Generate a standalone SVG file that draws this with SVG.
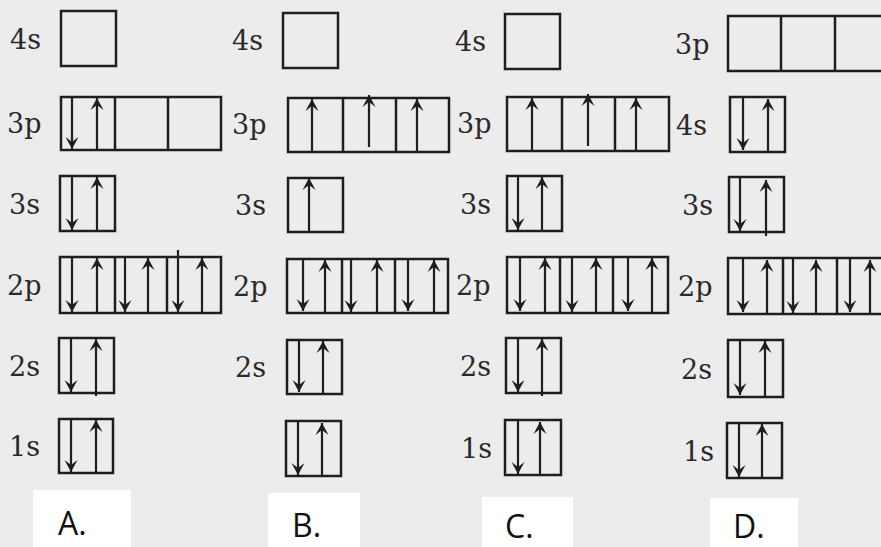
<svg xmlns="http://www.w3.org/2000/svg" width="881" height="547" viewBox="0 0 881 547">
<style>
.bg{fill:#ececec}
.lb{fill:#ffffff}
.box{fill:none;stroke:#1e1e1e;stroke-width:2.5}
.dv{stroke:#1e1e1e;stroke-width:2.5}
.ar{stroke:#1e1e1e;stroke-width:2.2;marker-end:url(#head)}
.t{font-family:"DejaVu Serif","Liberation Serif",serif;font-size:27px;fill:#2a2a2a}
.big{font-family:"Open Sans","Liberation Sans",sans-serif;font-size:32px;fill:#111}
</style>
<defs>
<marker id="head" markerUnits="userSpaceOnUse" markerWidth="16" markerHeight="16" viewBox="-13 -8 16 16" refX="0" refY="0" orient="auto">
<path d="M0,0 L-12,-6.5 L-7,0 L-12,6.5 Z" fill="#1e1e1e"/>
</marker>
</defs>
<rect class="bg" x="0" y="0" width="881" height="547"/>
<rect class="lb" x="33" y="490" width="98" height="57"/>
<rect class="lb" x="268" y="493" width="92" height="54"/>
<rect class="lb" x="482" y="497" width="91" height="50"/>
<rect class="lb" x="710" y="498" width="88" height="49"/>

<g id="A">
<text class="t" x="10" y="49">4s</text>
<text class="t" x="7" y="133">3p</text>
<text class="t" x="9" y="214">3s</text>
<text class="t" x="7" y="295">2p</text>
<text class="t" x="9" y="376">2s</text>
<text class="t" x="9" y="456">1s</text>
<g id="A-4s"><rect class="box" x="61" y="11" width="55" height="55"/></g>
<g id="A-3p"><rect class="box" x="61" y="97" width="160" height="53"/>
<line class="dv" x1="115" y1="97" x2="115" y2="150"/><line class="dv" x1="168" y1="97" x2="168" y2="150"/>
<line class="ar" x1="72" y1="97" x2="72" y2="149"/><line class="ar" x1="97" y1="150" x2="97" y2="98"/></g>
<g id="A-3s"><rect class="box" x="60" y="176" width="55" height="55"/>
<line class="ar" x1="72" y1="176" x2="72" y2="230"/><line class="ar" x1="97" y1="231" x2="97" y2="177"/></g>
<g id="A-2p"><rect class="box" x="60" y="257" width="161" height="56"/>
<line class="dv" x1="115" y1="257" x2="115" y2="313"/><line class="dv" x1="167" y1="257" x2="167" y2="313"/>
<line class="ar" x1="72" y1="257" x2="72" y2="312"/><line class="ar" x1="97" y1="313" x2="97" y2="258"/>
<line class="ar" x1="125" y1="257" x2="125" y2="312"/><line class="ar" x1="148" y1="313" x2="148" y2="258"/>
<line class="ar" x1="178" y1="250" x2="178" y2="312"/><line class="ar" x1="202" y1="313" x2="202" y2="258"/></g>
<g id="A-2s"><rect class="box" x="59" y="338" width="55" height="55"/>
<line class="ar" x1="71" y1="338" x2="71" y2="392"/><line class="ar" x1="96" y1="396" x2="96" y2="339"/></g>
<g id="A-1s"><rect class="box" x="59" y="419" width="54" height="54"/>
<line class="ar" x1="71" y1="419" x2="71" y2="472"/><line class="ar" x1="96" y1="473" x2="96" y2="420"/></g>
</g>

<g id="B">
<text class="t" x="232" y="50">4s</text>
<text class="t" x="232" y="134">3p</text>
<text class="t" x="235" y="215">3s</text>
<text class="t" x="233" y="296">2p</text>
<text class="t" x="235" y="377">2s</text>
<g id="B-4s"><rect class="box" x="283" y="13" width="55" height="55"/></g>
<g id="B-3p"><rect class="box" x="288" y="98" width="161" height="54"/>
<line class="dv" x1="343" y1="98" x2="343" y2="152"/><line class="dv" x1="396" y1="98" x2="396" y2="152"/>
<line class="ar" x1="312" y1="152" x2="312" y2="99"/><line class="ar" x1="369" y1="147" x2="369" y2="95"/><line class="ar" x1="417" y1="152" x2="417" y2="99"/></g>
<g id="B-3s"><rect class="box" x="288" y="178" width="55" height="54"/>
<line class="ar" x1="309" y1="232" x2="309" y2="178"/></g>
<g id="B-2p"><rect class="box" x="287" y="259" width="161" height="54"/>
<line class="dv" x1="342" y1="259" x2="342" y2="313"/><line class="dv" x1="395" y1="259" x2="395" y2="313"/>
<line class="ar" x1="303" y1="259" x2="303" y2="311"/><line class="ar" x1="325" y1="313" x2="325" y2="260"/>
<line class="ar" x1="351" y1="259" x2="351" y2="312"/><line class="ar" x1="377" y1="313" x2="377" y2="260"/>
<line class="ar" x1="408" y1="259" x2="408" y2="311"/><line class="ar" x1="434" y1="313" x2="434" y2="260"/></g>
<g id="B-2s"><rect class="box" x="287" y="340" width="55" height="54"/>
<line class="ar" x1="299" y1="340" x2="299" y2="392"/><line class="ar" x1="323" y1="394" x2="323" y2="341"/></g>
<g id="B-1s"><rect class="box" x="286" y="421" width="55" height="55"/>
<line class="ar" x1="298" y1="421" x2="298" y2="475"/><line class="ar" x1="322" y1="476" x2="322" y2="423"/></g>
</g>

<g id="C">
<text class="t" x="455" y="51">4s</text>
<text class="t" x="457" y="133">3p</text>
<text class="t" x="460" y="214">3s</text>
<text class="t" x="456" y="295">2p</text>
<text class="t" x="460" y="376">2s</text>
<text class="t" x="461" y="458">1s</text>
<g id="C-4s"><rect class="box" x="505" y="14" width="55" height="55"/></g>
<g id="C-3p"><rect class="box" x="507" y="97" width="162" height="54"/>
<line class="dv" x1="562" y1="97" x2="562" y2="151"/><line class="dv" x1="615" y1="97" x2="615" y2="151"/>
<line class="ar" x1="532" y1="151" x2="532" y2="98"/><line class="ar" x1="588" y1="146" x2="588" y2="94"/><line class="ar" x1="636" y1="151" x2="636" y2="98"/></g>
<g id="C-3s"><rect class="box" x="507" y="176" width="55" height="55"/>
<line class="ar" x1="518" y1="176" x2="518" y2="230"/><line class="ar" x1="542" y1="231" x2="542" y2="177"/></g>
<g id="C-2p"><rect class="box" x="507" y="257" width="161" height="56"/>
<line class="dv" x1="560" y1="257" x2="560" y2="313"/><line class="dv" x1="613" y1="257" x2="613" y2="313"/>
<line class="ar" x1="520" y1="257" x2="520" y2="311"/><line class="ar" x1="545" y1="313" x2="545" y2="258"/>
<line class="ar" x1="572" y1="257" x2="572" y2="312"/><line class="ar" x1="596" y1="313" x2="596" y2="258"/>
<line class="ar" x1="628" y1="257" x2="628" y2="311"/><line class="ar" x1="652" y1="313" x2="652" y2="258"/></g>
<g id="C-2s"><rect class="box" x="506" y="338" width="55" height="55"/>
<line class="ar" x1="518" y1="338" x2="518" y2="392"/><line class="ar" x1="542" y1="396" x2="542" y2="339"/></g>
<g id="C-1s"><rect class="box" x="505" y="420" width="56" height="55"/>
<line class="ar" x1="518" y1="420" x2="518" y2="474"/><line class="ar" x1="540" y1="475" x2="540" y2="422"/></g>
</g>

<g id="D">
<text class="t" x="675" y="54">3p</text>
<text class="t" x="676" y="135">4s</text>
<text class="t" x="682" y="215">3s</text>
<text class="t" x="678" y="296">2p</text>
<text class="t" x="681" y="379">2s</text>
<text class="t" x="683" y="461">1s</text>
<g id="D-3p"><rect class="box" x="728" y="16" width="165" height="55"/>
<line class="dv" x1="781" y1="16" x2="781" y2="71"/><line class="dv" x1="835" y1="16" x2="835" y2="71"/></g>
<g id="D-4s"><rect class="box" x="730" y="97" width="55" height="55"/>
<line class="ar" x1="743" y1="97" x2="743" y2="150"/><line class="ar" x1="768" y1="152" x2="768" y2="99"/></g>
<g id="D-3s"><rect class="box" x="729" y="177" width="55" height="55"/>
<line class="ar" x1="740" y1="177" x2="740" y2="231"/><line class="ar" x1="766" y1="236" x2="766" y2="180"/></g>
<g id="D-2p"><rect class="box" x="728" y="258" width="165" height="56"/>
<line class="dv" x1="783" y1="258" x2="783" y2="314"/><line class="dv" x1="837" y1="258" x2="837" y2="314"/>
<line class="ar" x1="743" y1="258" x2="743" y2="312"/><line class="ar" x1="767" y1="314" x2="767" y2="260"/>
<line class="ar" x1="793" y1="258" x2="793" y2="313"/><line class="ar" x1="816" y1="314" x2="816" y2="260"/>
<line class="ar" x1="850" y1="258" x2="850" y2="312"/><line class="ar" x1="870" y1="314" x2="870" y2="260"/></g>
<g id="D-2s"><rect class="box" x="728" y="340" width="55" height="57"/>
<line class="ar" x1="740" y1="340" x2="740" y2="395"/><line class="ar" x1="765" y1="397" x2="765" y2="341"/></g>
<g id="D-1s"><rect class="box" x="727" y="423" width="55" height="55"/>
<line class="ar" x1="739" y1="423" x2="739" y2="477"/><line class="ar" x1="762" y1="478" x2="762" y2="424"/></g>
</g>

<text class="big" x="58" y="535">A.</text>
<text class="big" x="292" y="537">B.</text>
<text class="big" x="505" y="538">C.</text>
<text class="big" x="733" y="538">D.</text>
</svg>
